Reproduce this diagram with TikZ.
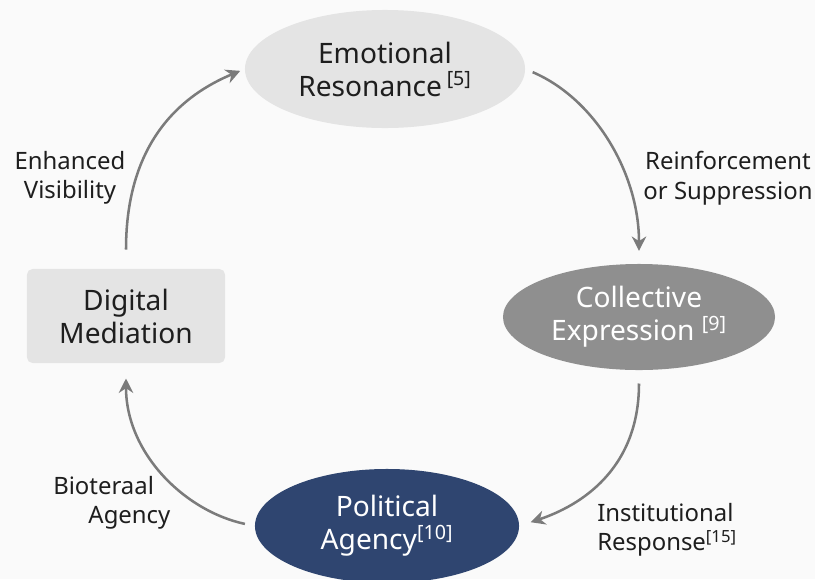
\documentclass[tikz,border=0pt]{standalone}
\usepackage{fontspec}
\setmainfont{Noto Sans}
\usetikzlibrary{shapes.geometric,arrows.meta}

\definecolor{paper}{HTML}{FAFAFA}
\definecolor{lightbox}{HTML}{E4E4E4}
\definecolor{midbox}{HTML}{8F8F8F}
\definecolor{navybox}{HTML}{2F4570}
\definecolor{arrowgray}{HTML}{7B7B7B}
\definecolor{inkgray}{HTML}{1E1E1E}

\tikzset{
  stage/.style={ellipse, inner sep=0pt, align=center,
    font=\fontsize{20}{23.5}\selectfont},
  boxstage/.style={rectangle, rounded corners=4pt, inner sep=0pt, align=center,
    font=\fontsize{20}{23.5}\selectfont, fill=lightbox, text=inkgray},
  linklabel/.style={align=center, inner sep=0pt, text=inkgray,
    font=\fontsize{17}{21}\selectfont},
  cyclearrow/.style={draw=arrowgray, line width=1.8pt,
    -{Stealth[length=0.36cm, width=0.36cm]}}
}

\begin{document}
\begin{tikzpicture}[x=0.025cm, y=-0.025cm]
      \clip (0,0) rectangle (815,579);
      \fill[paper] (0,0) rectangle (815,579);
      %%%%%%%%%%%%%%%%%%%%%%%%%%%%%%%%%%%%%%%%%%%%%%%
      \node[stage, fill=lightbox, text=inkgray, minimum width=7cm, minimum height=2.95cm]
            at (385,69)  (er) {Emotional\\Resonance\,\textsuperscript{[5]}};
      \node[stage, fill=midbox, text=white, minimum width=6.8cm, minimum height=2.65cm]
            at (639,317) (cx) {Collective\\Expression \textsuperscript{[9]}};
      \node[stage, fill=navybox, text=white, minimum width=6.6cm, minimum height=2.85cm]
            at (387,526) (pa) {Political\\Agency\textsuperscript{[10]}};
      \node[boxstage, minimum width=4.95cm, minimum height=2.35cm]
            at (126,316) (dm) {Digital\\Mediation};
      %%%%%%%%%%%%%%%%%%%%%%%%%%%%%%%%%%%%%%%%%%%%%%%
      \draw[cyclearrow, shorten <=0.48cm, shorten >=0.12cm]
            (dm.north) .. controls +(0,-130) and +(-60,25) .. (er.west);
      \draw[cyclearrow, shorten <=0.2cm, shorten >=0.32cm]
            (er.east) .. controls +(70,30) and +(0,-90) .. (cx.north);
      \draw[cyclearrow, shorten <=0.33cm, shorten >=0.3cm]
            (cx.south) .. controls +(0,100) and +(60,-20) .. (pa.east);
      \draw[cyclearrow, shorten <=0.25cm, shorten >=0.38cm]
            (pa.west) .. controls +(-70,-15) and +(0,90) .. (dm.south);
      %%%%%%%%%%%%%%%%%%%%%%%%%%%%%%%%%%%%%%%%%%%%%%%
      \node[linklabel] at (70,178)  (lbvis)    {Enhanced\\Visibility};
      \node[linklabel] at (728,178) (lbreinf)  {Reinforcement\\or Suppression};
      \node[linklabel, anchor=west, align=left] at (597,530) (lbinst)
            {Institutional\\Response\textsuperscript{[15]}};
      \node[linklabel, anchor=west, align=left] at (53,503) (lbbio)
            {Bioteraal\\\hspace*{0.88cm}Agency};
      %%%%%%%%%%%%%%%%%%%%%%%%%%%%%%%%%%%%%%%%%%%%%%%
\end{tikzpicture}
\end{document}
